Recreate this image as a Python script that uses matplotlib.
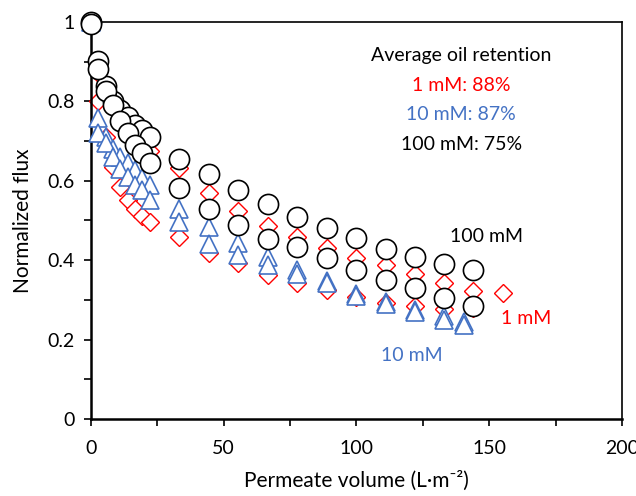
import numpy as np
import matplotlib
matplotlib.use("Agg")
import matplotlib.pyplot as plt
from matplotlib.ticker import MultipleLocator, FuncFormatter

plt.rcParams['font.family'] = ['Lato', 'DejaVu Sans']

# permeate volume (L m^-2), two replicate runs per salt concentration
vol = [0, 2.8, 5.6, 8.3, 11.1, 13.9, 16.7, 19.4, 22.2, 33.3, 44.4, 55.5,
       66.6, 77.7, 88.8, 100, 111, 122, 133, 144]
vol_1mM = vol + [155]
vol_10mM = vol[:-1] + [140.5]

flux_1mM_a = [1.0, 0.87, 0.835, 0.80, 0.775, 0.75, 0.725, 0.70, 0.675, 0.632,
              0.569, 0.524, 0.486, 0.458, 0.431, 0.405, 0.388, 0.365, 0.343,
              0.322, 0.317]
flux_1mM_b = [1.0, 0.80, 0.71, 0.635, 0.584, 0.552, 0.53, 0.51, 0.496, 0.458,
              0.418, 0.393, 0.363, 0.343, 0.325, 0.307, 0.292, 0.285, 0.276,
              0.28]

flux_10mM_a = [1.0, 0.758, 0.71, 0.68, 0.66, 0.645, 0.627, 0.607, 0.589, 0.53,
               0.484, 0.443, 0.408, 0.375, 0.348, 0.315, 0.295, 0.275, 0.26,
               0.245]
flux_10mM_b = [1.0, 0.72, 0.695, 0.66, 0.63, 0.61, 0.59, 0.577, 0.552, 0.497,
               0.441, 0.413, 0.388, 0.365, 0.343, 0.31, 0.29, 0.27, 0.25,
               0.238]

flux_100mM_a = [1.0, 0.902, 0.839, 0.80, 0.778, 0.761, 0.741, 0.728, 0.710,
                0.655, 0.617, 0.577, 0.542, 0.509, 0.481, 0.456, 0.428, 0.408,
                0.390, 0.375]
flux_100mM_b = [0.995, 0.882, 0.826, 0.79, 0.750, 0.720, 0.690, 0.670, 0.645,
                0.582, 0.529, 0.489, 0.453, 0.433, 0.405, 0.375, 0.350, 0.330,
                0.305, 0.285]

red = '#FF0000'
blue = '#4472C4'

fig = plt.figure(figsize=(6.36, 4.96), dpi=100)
ax = fig.add_axes([0.143, 0.155, 0.835, 0.801])

# 1 mM - diamonds (drawn first, at the back)
for y in (flux_1mM_a, flux_1mM_b):
    n = len(y)
    ax.plot(vol_1mM[:n], y, ls='none', marker='D', ms=9.2, mfc='white',
            mec=red, mew=1.0, zorder=2, clip_on=False)
# 10 mM - triangles
for y in (flux_10mM_a, flux_10mM_b):
    ax.plot(vol_10mM, y, ls='none', marker='^', ms=13, mfc='white',
            mec=blue, mew=1.2, zorder=3, clip_on=False)
# 100 mM - circles
for y in (flux_100mM_a, flux_100mM_b):
    ax.plot(vol, y, ls='none', marker='o', ms=14.5, mfc='white',
            mec='black', mew=1.2, zorder=4, clip_on=False)

ax.set_xlim(0, 200)
ax.set_ylim(0, 1)
ax.xaxis.set_major_locator(MultipleLocator(50))
ax.xaxis.set_minor_locator(MultipleLocator(25))
ax.yaxis.set_major_locator(MultipleLocator(0.2))
ax.yaxis.set_minor_locator(MultipleLocator(0.1))
ax.yaxis.set_major_formatter(FuncFormatter(lambda v, p: '%g' % round(v, 1)))
ax.tick_params(which='both', direction='out', length=5, width=1.2,
               labelsize=14)
ax.tick_params(axis='x', pad=10)
ax.tick_params(axis='y', pad=7)

for s in ('left', 'bottom'):
    ax.spines[s].set_linewidth(1.8)
for s in ('top', 'right'):
    ax.spines[s].set_linewidth(1.2)

ax.set_xlabel('Permeate volume (L·m⁻²)', fontsize=15, labelpad=10)
ax.set_ylabel('Normalized flux', fontsize=15, labelpad=10)

# annotations
tx = 139.5
ax.text(tx, 0.915, 'Average oil retention', fontsize=14, ha='center', va='center')
ax.text(tx, 0.84, '1 mM: 88%', fontsize=14, ha='center', va='center', color=red)
ax.text(tx, 0.766, '10 mM: 87%', fontsize=14, ha='center', va='center', color=blue)
ax.text(tx, 0.692, '100 mM: 75%', fontsize=14, ha='center', va='center', color='black')
ax.text(149, 0.46, '100 mM', fontsize=14, ha='center', va='center')
ax.text(164, 0.254, '1 mM', fontsize=14, ha='center', va='center', color=red)
ax.text(121, 0.16, '10 mM', fontsize=14, ha='center', va='center', color=blue)

fig.savefig('out.png', dpi=100)
